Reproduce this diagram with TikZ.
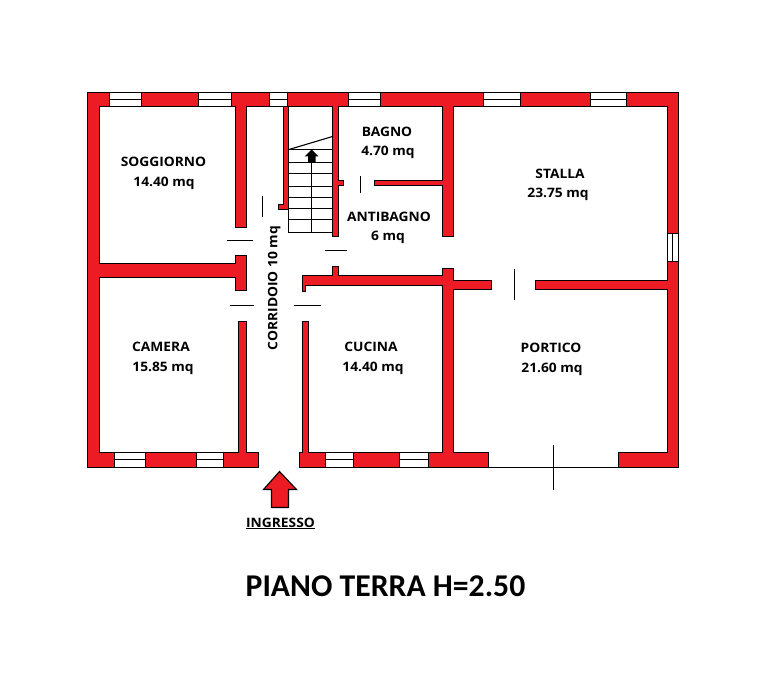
\documentclass[tikz,border=0pt]{standalone}
\usepackage{fontspec}
\setmainfont{Open Sans}[FakeStretch=1.06]
\newfontfamily\titlefont{Carlito}
\definecolor{wallred}{HTML}{ED1C24}
\tikzset{
  wall/.style={draw=black,fill=wallred,line width=1.1pt,line join=miter},
  win/.style={draw=black,fill=white,line width=1.1pt},
  ink/.style={draw=black,line width=1.1pt},
  room/.style={font=\fontsize{13}{15}\selectfont\bfseries,anchor=base,inner sep=0pt,text=black},
}
\begin{document}
\begin{tikzpicture}[x=1pt,y=-1pt]
\useasboundingbox (0,0) rectangle (776,687);
\fill[white] (0,0) rectangle (776,687);
% top windows
\foreach \a/\b in {109.5/141.5,198.5/231.5,269.5/287.5,348.5/380.5,483.5/520.5,590.5/626.5}{
  \draw[win] (\a,92.5) rectangle (\b,106.5);
  \draw[ink] (\a,99.5) -- (\b,99.5);
}
% bottom windows
\foreach \a/\b in {114.5/145.5,196.5/223.5,325.5/353.5,399.5/428.5}{
  \draw[win] (\a,452.5) rectangle (\b,467.5);
  \draw[ink] (\a,459.5) -- (\b,459.5);
}
% right window
\draw[win] (667.5,233.5) rectangle (678.5,261.5);
\draw[ink] (672.5,233.5) -- (672.5,261.5);
% walls
\path[wall] (87.5,92.5)--(109.5,92.5)--(109.5,106.5)--(99.5,106.5)--(99.5,263.5)--(235.5,263.5)--(235.5,255.5)--(246.5,255.5)--(246.5,290.5)--(235.5,290.5)--(235.5,277.5)--(99.5,277.5)--(99.5,452.5)--(114.5,452.5)--(114.5,467.5)--(87.5,467.5)--cycle;
\path[wall] (141.5,92.5) rectangle (198.5,106.5);
\path[wall] (231.5,92.5)--(269.5,92.5)--(269.5,106.5)--(246.5,106.5)--(246.5,227.5)--(235.5,227.5)--(235.5,106.5)--(231.5,106.5)--cycle;
\path[wall] (287.5,92.5)--(348.5,92.5)--(348.5,106.5)--(338.5,106.5)--(338.5,180.5)--(343.5,180.5)--(343.5,185.5)--(338.5,185.5)--(338.5,236.5)--(332.5,236.5)--(332.5,106.5)--(288.5,106.5)--(288.5,209.5)--(278.5,209.5)--(278.5,204.5)--(283.5,204.5)--(283.5,106.5)--(287.5,106.5)--cycle;
\path[wall] (380.5,92.5)--(483.5,92.5)--(483.5,106.5)--(453.5,106.5)--(453.5,236.5)--(442.5,236.5)--(442.5,185.5)--(374.5,185.5)--(374.5,180.5)--(442.5,180.5)--(442.5,106.5)--(380.5,106.5)--cycle;
\path[wall] (520.5,92.5) rectangle (590.5,106.5);
\path[wall] (626.5,92.5)--(678.5,92.5)--(678.5,233.5)--(667.5,233.5)--(667.5,106.5)--(626.5,106.5)--cycle;
\path[wall] (667.5,261.5)--(678.5,261.5)--(678.5,467.5)--(618.5,467.5)--(618.5,452.5)--(667.5,452.5)--(667.5,289.5)--(535.5,289.5)--(535.5,280.5)--(667.5,280.5)--cycle;
\path[wall] (145.5,452.5) rectangle (196.5,467.5);
\path[wall] (223.5,452.5)--(238.5,452.5)--(238.5,321.5)--(246.5,321.5)--(246.5,452.5)--(258.5,452.5)--(258.5,467.5)--(223.5,467.5)--cycle;
\path[wall] (299.5,452.5)--(302.5,452.5)--(302.5,321.5)--(308.5,321.5)--(308.5,452.5)--(325.5,452.5)--(325.5,467.5)--(299.5,467.5)--cycle;
\path[wall] (353.5,452.5) rectangle (399.5,467.5);
\path[wall] (428.5,452.5)--(442.5,452.5)--(442.5,285.5)--(305.5,285.5)--(305.5,291.5)--(302.5,291.5)--(302.5,275.5)--(332.5,275.5)--(332.5,266.5)--(338.5,266.5)--(338.5,275.5)--(442.5,275.5)--(442.5,268.5)--(453.5,268.5)--(453.5,280.5)--(491.5,280.5)--(491.5,289.5)--(453.5,289.5)--(453.5,452.5)--(488.5,452.5)--(488.5,467.5)--(428.5,467.5)--cycle;
% portico line
\draw[ink] (488.5,467.5) -- (618.5,467.5);
\draw[ink] (553.5,445) -- (553.5,490);
% door leaves
\draw[ink] (227,240.5) -- (253,240.5);
\draw[ink] (230,305.5) -- (254,305.5);
\draw[ink] (294,305.5) -- (320.5,305.5);
\draw[ink] (325,250.5) -- (347,250.5);
\draw[ink] (360.5,176) -- (360.5,193);
\draw[ink] (514.5,269) -- (514.5,300);
\draw[ink] (262.5,196) -- (262.5,217);
% stairs
\foreach \y in {149.5,162.5,173.5,186.5,197.5,208.5,219.5,232.5}{
  \draw[ink] (288.5,\y) -- (332.5,\y);
}
\draw[ink] (288.5,149.5) -- (288.5,232.5);
\draw[ink] (311.5,162.5) -- (311.5,232.5);
\draw[ink] (289,149.5) -- (332.5,136.5);
\fill[black] (311.5,149.5)--(318.5,156.5)--(315.5,156.5)--(315.5,162.5)--(308,162.5)--(308,156.5)--(304.5,156.5)--cycle;
% entry arrow
\path[wall] (279.5,471.5)--(296.5,489.5)--(288.5,489.5)--(288.5,507.5)--(271.5,507.5)--(271.5,489.5)--(263.5,489.5)--cycle;
% labels
\node[room] (soggiorno) at (163.5,167) {SOGGIORNO};
\node[room] (soggiornoa) at (164,186) {14.40 mq};
\node[room] (camera) at (161,351.7) {CAMERA};
\node[room] (cameraa) at (163,371) {15.85 mq};
\node[room] (cucina) at (371,351.7) {CUCINA};
\node[room] (cucinaa) at (373,371) {14.40 mq};
\node[room] (portico) at (551,352.7) {PORTICO};
\node[room] (porticoa) at (552,372) {21.60 mq};
\node[room] (stalla) at (560,179) {STALLA};
\node[room] (stallaa) at (558,198) {23.75 mq};
\node[room] (bagno) at (387,136.7) {BAGNO};
\node[room] (bagnoa) at (388,156) {4.70 mq};
\node[room] (antibagno) at (389,221.7) {ANTIBAGNO};
\node[room] (antibagnoa) at (388,240.7) {6 mq};
\node[room,rotate=90] (corridoio) at (277.3,288) {CORRIDOIO 10 mq};
\node[room] (ingresso) at (280.5,527) {INGRESSO};
\draw[ink] (246,528.5) -- (315,528.5);
\node[font=\titlefont\fontsize{31.7}{36}\selectfont\bfseries,anchor=base,inner sep=0pt] (title) at (385.5,596) {PIANO TERRA H=2.50};
\end{tikzpicture}
\end{document}
